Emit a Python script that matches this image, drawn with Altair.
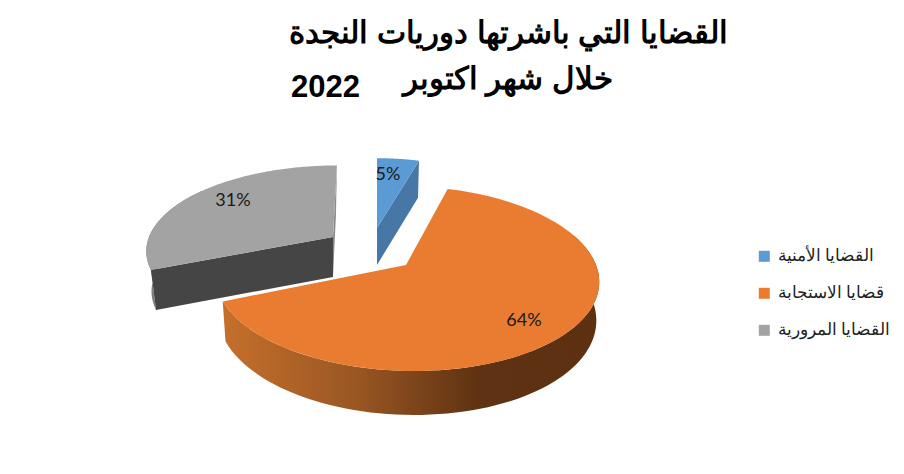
import numpy as np
import pandas as pd
import altair as alt

title_line_1 = "القضايا التي باشرتها دوريات النجدة"
title_line_2 = "خلال شهر اكتوبر"
title_year = "2022"
categories = ["القضايا الأمنية", "قضايا الاستجابة", "القضايا المرورية"]
shares = [4.6, 64.2, 31.2]
share_labels = ["5%", "64%", "31%"]
top_colors = ["#5b9bd5", "#ea7c31", "#a3a3a3"]

W, H = 888, 458
K = 0.146
# per-slice projection: apex pixel, horizontal and vertical radius, skew, depth
geom = {
    0: dict(cx=377, cy=228, B=168, A=80, S=0, D=37, label=(388, 175)),
    1: dict(cx=406, cy=265, B=190, A=90.5, S=-7, D=37.5, label=(524, 321)),
    2: dict(cx=333, cy=237, B=184, A=82, S=4.5, D=40, label=(233, 201)),
}
ends = np.cumsum(shares) / sum(shares) * 360.0
starts = np.concatenate([[0.0], ends[:-1]])

x_s = alt.Scale(domain=[8, 8 + W], range=[0, W])
y_s = alt.Scale(domain=[8, 8 + H], range=[0, H])


def rim(g, deg):
    t = np.radians(deg)
    u, v = np.sin(t), np.cos(t)
    w = 1 + K * v
    return g["cx"] + (g["B"] * u + g["S"] * v) / w, g["cy"] - g["A"] * v / w, v


def low(g, deg, taper=0.0, xs=1.0):
    x, y, v = rim(g, deg)
    return g["cx"] + xs * (x - g["cx"]), y + g["D"] - taper * v


def frame(pts):
    return pd.DataFrame({"x": [p[0] for p in pts], "y": [p[1] for p in pts], "o": range(len(pts))})


def enc(ch):
    return ch.encode(
        x=alt.X("x:Q", scale=x_s, axis=None),
        y=alt.Y("y:Q", scale=y_s, axis=None),
        order="o:Q",
    )


def poly(pts, fill):
    return enc(alt.Chart(frame(pts)).mark_line(fill=fill, strokeWidth=0, strokeOpacity=0))


def side(i, a, b, fill, taper=0.0, xs=1.0):
    g = geom[i]
    angs = np.linspace(a, b, 80)
    pts = [rim(g, d)[:2] for d in angs] + [low(g, d, taper, xs) for d in angs[::-1]]
    return poly(pts, fill)


def hgrad(stops):
    return alt.Gradient(
        gradient="linear", x1=0, x2=1, y1=0, y2=0,
        stops=[alt.GradientStop(offset=o, color=c) for o, c in stops],
    )


layers = []

# grey slice sides
g = geom[2]
layers.append(side(2, starts[2], starts[2] + 60, "#7d7d7d", xs=0.972))
ax, ay, _ = rim(g, starts[2])
layers.append(poly([(g["cx"], g["cy"]), (ax, ay), (ax + 5, ay + g["D"]), (g["cx"], g["cy"] + g["D"])], "#454545"))
ex, ey, _ = rim(g, 360)
layers.append(poly([(g["cx"], g["cy"]), (ex, ey), (ex - 1, ey + g["D"] + 10), (g["cx"], g["cy"] + g["D"])], "#8c8c8c"))

# orange outer wall
layers.append(side(1, 70, ends[1], hgrad([(0, "#c56f2c"), (0.35, "#9a5723"), (0.68, "#5e3212"), (1, "#5c3010")]), taper=6.5, xs=0.985))

# blue cut face
g = geom[0]
bx, by, _ = rim(g, ends[0])
layers.append(poly([(g["cx"], g["cy"]), (bx, by), (bx - 1, by + g["D"]), (g["cx"], g["cy"] + g["D"])], "#4677a6"))

# top surfaces, carrying the legend
rows = []
for i, cat in enumerate(categories):
    g = geom[i]
    angs = np.linspace(starts[i], ends[i], 160)
    pts = [(g["cx"], g["cy"])] + [rim(g, d)[:2] for d in angs]
    f = frame(pts)
    f["cat"] = cat
    rows.append(f)
tops = pd.concat(rows, ignore_index=True)
layers.append(
    alt.Chart(tops).mark_line(strokeWidth=0, strokeOpacity=0).encode(
        x=alt.X("x:Q", scale=x_s, axis=None),
        y=alt.Y("y:Q", scale=y_s, axis=None),
        order="o:Q",
        detail="cat:N",
        fill=alt.Fill(
            "cat:N",
            scale=alt.Scale(domain=categories, range=top_colors),
            legend=alt.Legend(
                title=None, orient="none", legendX=748, legendY=240,
                symbolType="square", symbolSize=121, symbolStrokeWidth=0, symbolOpacity=1,
                labelFont="Liberation Sans", labelFontSize=16.6, labelColor="#222222",
                rowPadding=20, labelOffset=5, labelLimit=200,
            ),
        ),
    )
)

# data labels
lab = pd.DataFrame({
    "t": share_labels,
    "x": [geom[i]["label"][0] for i in range(3)],
    "y": [geom[i]["label"][1] for i in range(3)],
})
layers.append(
    alt.Chart(lab).mark_text(font="Lato", fontSize=18, color="#1a1a1a").encode(
        x=alt.X("x:Q", scale=x_s, axis=None),
        y=alt.Y("y:Q", scale=y_s, axis=None),
        text="t:N",
    )
)


def title_text(text, right, base, size):
    return alt.Chart(pd.DataFrame({"t": [text]})).mark_text(
        font="Liberation Sans", fontSize=size, fontWeight="bold", color="#000000",
        align="right", baseline="alphabetic",
    ).encode(x=alt.value(right - 8), y=alt.value(base - 8), text="t:N")


layers.append(title_text(title_line_1, 728, 43, 31.2))
layers.append(title_text(title_line_2, 613, 89, 31))
layers.append(title_text(title_year, 360, 97, 31))

chart = alt.layer(*layers).properties(
    width=W, height=H, padding=0, autosize=alt.AutoSizeParams(type="none"), background="#ffffff"
).configure_view(stroke=None)

chart.save("out.html", embed_options={"renderer": "svg", "actions": False})
